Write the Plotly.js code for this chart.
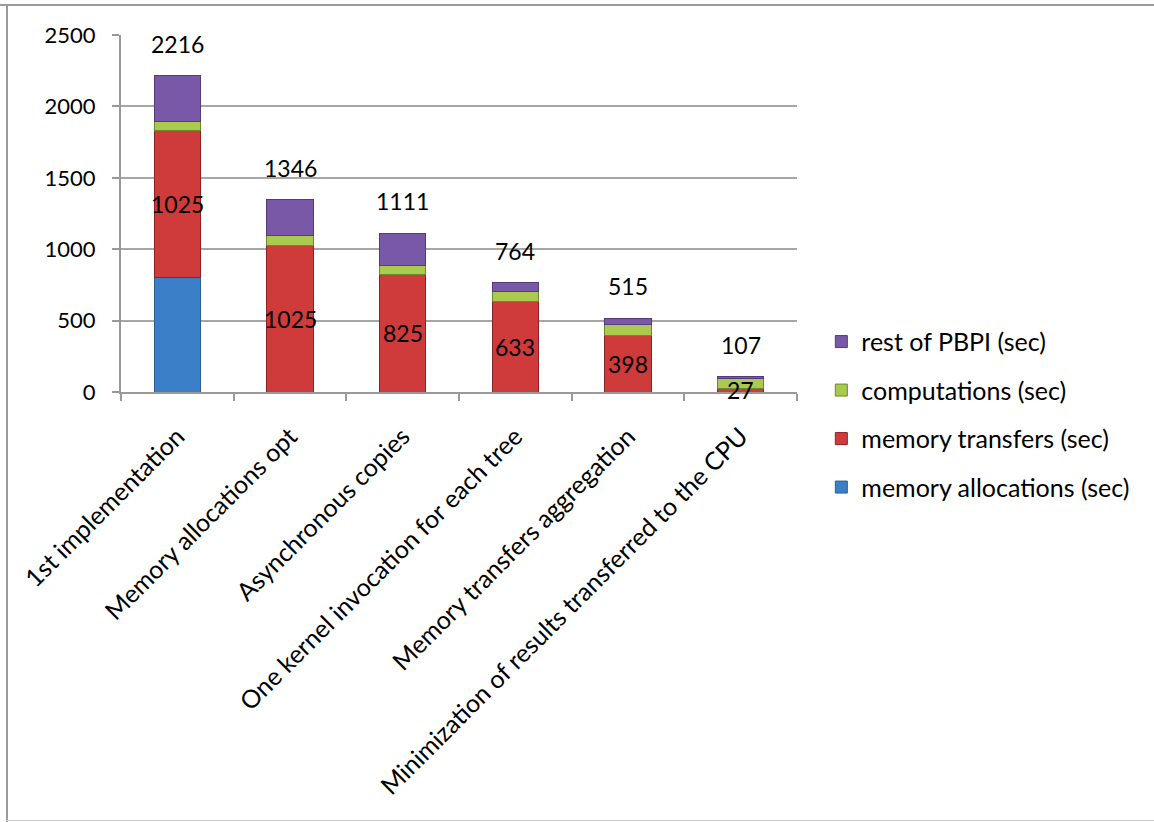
<!DOCTYPE html>
<html>
<head>
<meta charset="utf-8">
<script src="https://cdn.plot.ly/plotly-3.0.1.min.js"></script>
<style>
  html, body { margin: 0; padding: 0; background: #fff; }
  #wrap { position: relative; width: 1154px; height: 822px; overflow: hidden; }
  #chart { position: absolute; left: 0; top: 0; width: 1154px; height: 822px; }
  .frame { position: absolute; pointer-events: none; }
</style>
</head>
<body>
<div id="wrap">
  <div id="chart"></div>
  <div class="frame" style="left:0;top:4px;width:1154px;height:2px;background:#9a9a9a;"></div>
  <div class="frame" style="left:6px;top:4px;width:2px;height:818px;background:#9a9a9a;"></div>
  <div class="frame" style="left:6px;top:820px;width:1148px;height:1px;background:#cfcfcf;"></div>
</div>
<script>
const categories = [
  "1st implementation",
  "Memory allocations opt",
  "Asynchronous copies",
  "One kernel invocation for each tree",
  "Memory transfers aggregation",
  "Minimization of results transferred to the CPU"
];
const memoryAllocations = [805, 0, 0, 0, 0, 0];
const memoryTransfers   = [1025, 1025, 825, 633, 398, 27];
const computations      = [65, 70, 60, 68, 75, 65];
const restOfPBPI        = [321, 251, 226, 63, 42, 15];
const totals            = [2216, 1346, 1111, 764, 515, 107];
const transferLabels    = ["1025", "1025", "825", "633", "398", "27"];

const FONT = "Lato, 'Open Sans', sans-serif";

function barTrace(name, y, color, line, group, rank) {
  return {
    type: "bar", name: name, x: categories, y: y,
    marker: { color: color, line: { color: line, width: 1 } },
    legendgroup: group, legendrank: rank, hoverinfo: "y+name",
    textposition: "none"
  };
}

const data = [
  barTrace("memory allocations (sec)", memoryAllocations, "#3b7fc8", "#2a5f98", "g1", 4),
  barTrace("memory transfers (sec)", memoryTransfers, "#cf3a3a", "#8e2222", "g2", 3),
  barTrace("computations (sec)", computations, "#a9c94f", "#6c8a2c", "g3", 2),
  barTrace("rest of PBPI (sec)", restOfPBPI, "#7a58a8", "#553a7e", "g4", 1)
];

const totalAnnotations = categories.map((c, i) => ({
  x: c, y: totals[i], xref: "x", yref: "y",
  text: String(totals[i]), showarrow: false,
  yshift: 32, font: { family: FONT, size: 23, color: "#000" }
}));
const transferAnnotations = categories.map((c, i) => ({
  x: c, y: memoryAllocations[i] + memoryTransfers[i] / 2, xref: "x", yref: "y",
  text: transferLabels[i], showarrow: false, yanchor: "middle",
  font: { family: FONT, size: 23, color: "#000" }
}));

const layout = {
  width: 1154, height: 822,
  margin: { l: 121, r: 357, t: 35, b: 430, pad: 0 },
  paper_bgcolor: "#fff", plot_bgcolor: "#fff",
  barmode: "stack", bargap: 0.59,
  font: { family: FONT, size: 22, color: "#000" },
  showlegend: true,
  legend: {
    x: 1.036, xanchor: "left", y: 0.205, yanchor: "top",
    traceorder: "grouped", tracegroupgap: 13,
    font: { family: FONT, size: 25, color: "#000" },
    bgcolor: "rgba(0,0,0,0)", borderwidth: 0
  },
  xaxis: {
    type: "category", tickangle: -45, tickson: "boundaries",
    ticks: "outside", ticklen: 7, tickcolor: "#999", tickwidth: 2,
    showline: true, linecolor: "#999", linewidth: 2,
    showgrid: false, automargin: false, ticklabelstandoff: 18,
    tickfont: { family: FONT, size: 25, color: "#000" }
  },
  yaxis: {
    range: [0, 2500], dtick: 500, tick0: 0,
    ticks: "outside", ticklen: 7, tickcolor: "#999", tickwidth: 2,
    showline: true, linecolor: "#999", linewidth: 2,
    showgrid: true, gridcolor: "#a6a6a6", gridwidth: 2,
    zeroline: false, automargin: false, ticklabelstandoff: 12,
    tickfont: { family: FONT, size: 22, color: "#000" }
  },
  annotations: totalAnnotations.concat(transferAnnotations)
};

Plotly.newPlot("chart", data, layout, { displayModeBar: false, staticPlot: true });
</script>
</body>
</html>
